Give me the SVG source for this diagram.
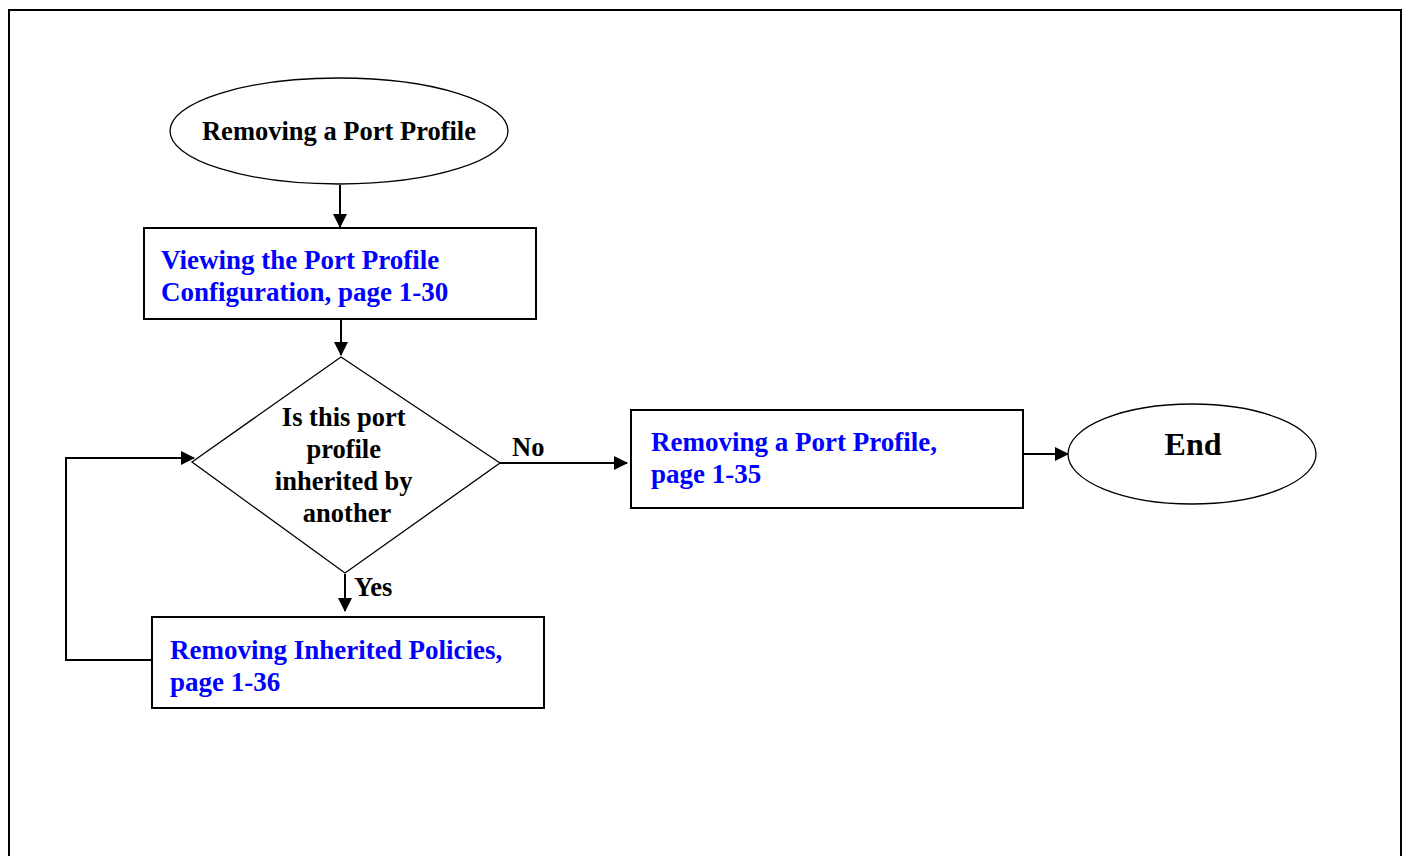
<svg xmlns="http://www.w3.org/2000/svg" width="1406" height="856" viewBox="0 0 1406 856">
<style>
.t{font-family:"Liberation Serif","Times New Roman",serif;font-weight:bold;}
.k{fill:#000;font-size:26.5px;}
.b{fill:#0000ff;font-size:27px;}
.box{fill:#fff;stroke:#000;stroke-width:2;}
.thin{fill:#fff;stroke:#000;stroke-width:1.3;}
.c{fill:none;stroke:#000;stroke-width:2;}
</style>
<defs>
<marker id="ah" markerWidth="14" markerHeight="14" refX="13" refY="7" orient="auto" markerUnits="userSpaceOnUse">
<path d="M0,0 L14,7 L0,14 z" fill="#000"/>
</marker>
</defs>
<rect width="1406" height="856" fill="#fff"/>
<path d="M9,856 V10 H1401 V856" fill="none" stroke="#000" stroke-width="2"/>
<g id="connectors">
<line class="c" x1="340" y1="185" x2="340" y2="227" marker-end="url(#ah)"/>
<line class="c" x1="341" y1="319" x2="341" y2="355" marker-end="url(#ah)"/>
<line class="c" x1="500" y1="463" x2="627" y2="463" marker-end="url(#ah)"/>
<line class="c" x1="1023" y1="454" x2="1068" y2="454" marker-end="url(#ah)"/>
<line class="c" x1="345" y1="574" x2="345" y2="611" marker-end="url(#ah)"/>
<polyline class="c" points="152,660 66,660 66,458 194,458" marker-end="url(#ah)"/>
<text class="t k" x="512" y="456">No</text>
<text class="t k" x="354" y="596">Yes</text>
</g>
<g id="start">
<ellipse class="thin" cx="339" cy="131" rx="169" ry="53"/>
<text class="t k" x="339" y="140" text-anchor="middle">Removing a Port Profile</text>
</g>
<g id="view">
<rect class="box" x="144" y="228" width="392" height="91"/>
<text class="t b" x="161" y="269">Viewing the Port Profile</text>
<text class="t b" x="161" y="301">Configuration, page 1-30</text>
</g>
<g id="decision">
<polygon class="thin" points="341,357 500,463 345,573 192,462"/>
<text class="t k" text-anchor="middle">
<tspan x="347" y="426">Is this port</tspan>
<tspan x="347" y="458">profile</tspan>
<tspan x="347" y="490">inherited by</tspan>
<tspan x="347" y="522">another</tspan>
</text>
</g>
<g id="remove">
<rect class="box" x="631" y="410" width="392" height="98"/>
<text class="t b" x="651" y="451">Removing a Port Profile,</text>
<text class="t b" x="651" y="483">page 1-35</text>
</g>
<g id="end">
<ellipse class="thin" cx="1192" cy="454" rx="124" ry="50"/>
<text class="t" x="1193" y="455" font-size="32" text-anchor="middle">End</text>
</g>
<g id="inherited">
<rect class="box" x="152" y="617" width="392" height="91"/>
<text class="t b" x="170" y="659">Removing Inherited Policies,</text>
<text class="t b" x="170" y="691">page 1-36</text>
</g>
</svg>
